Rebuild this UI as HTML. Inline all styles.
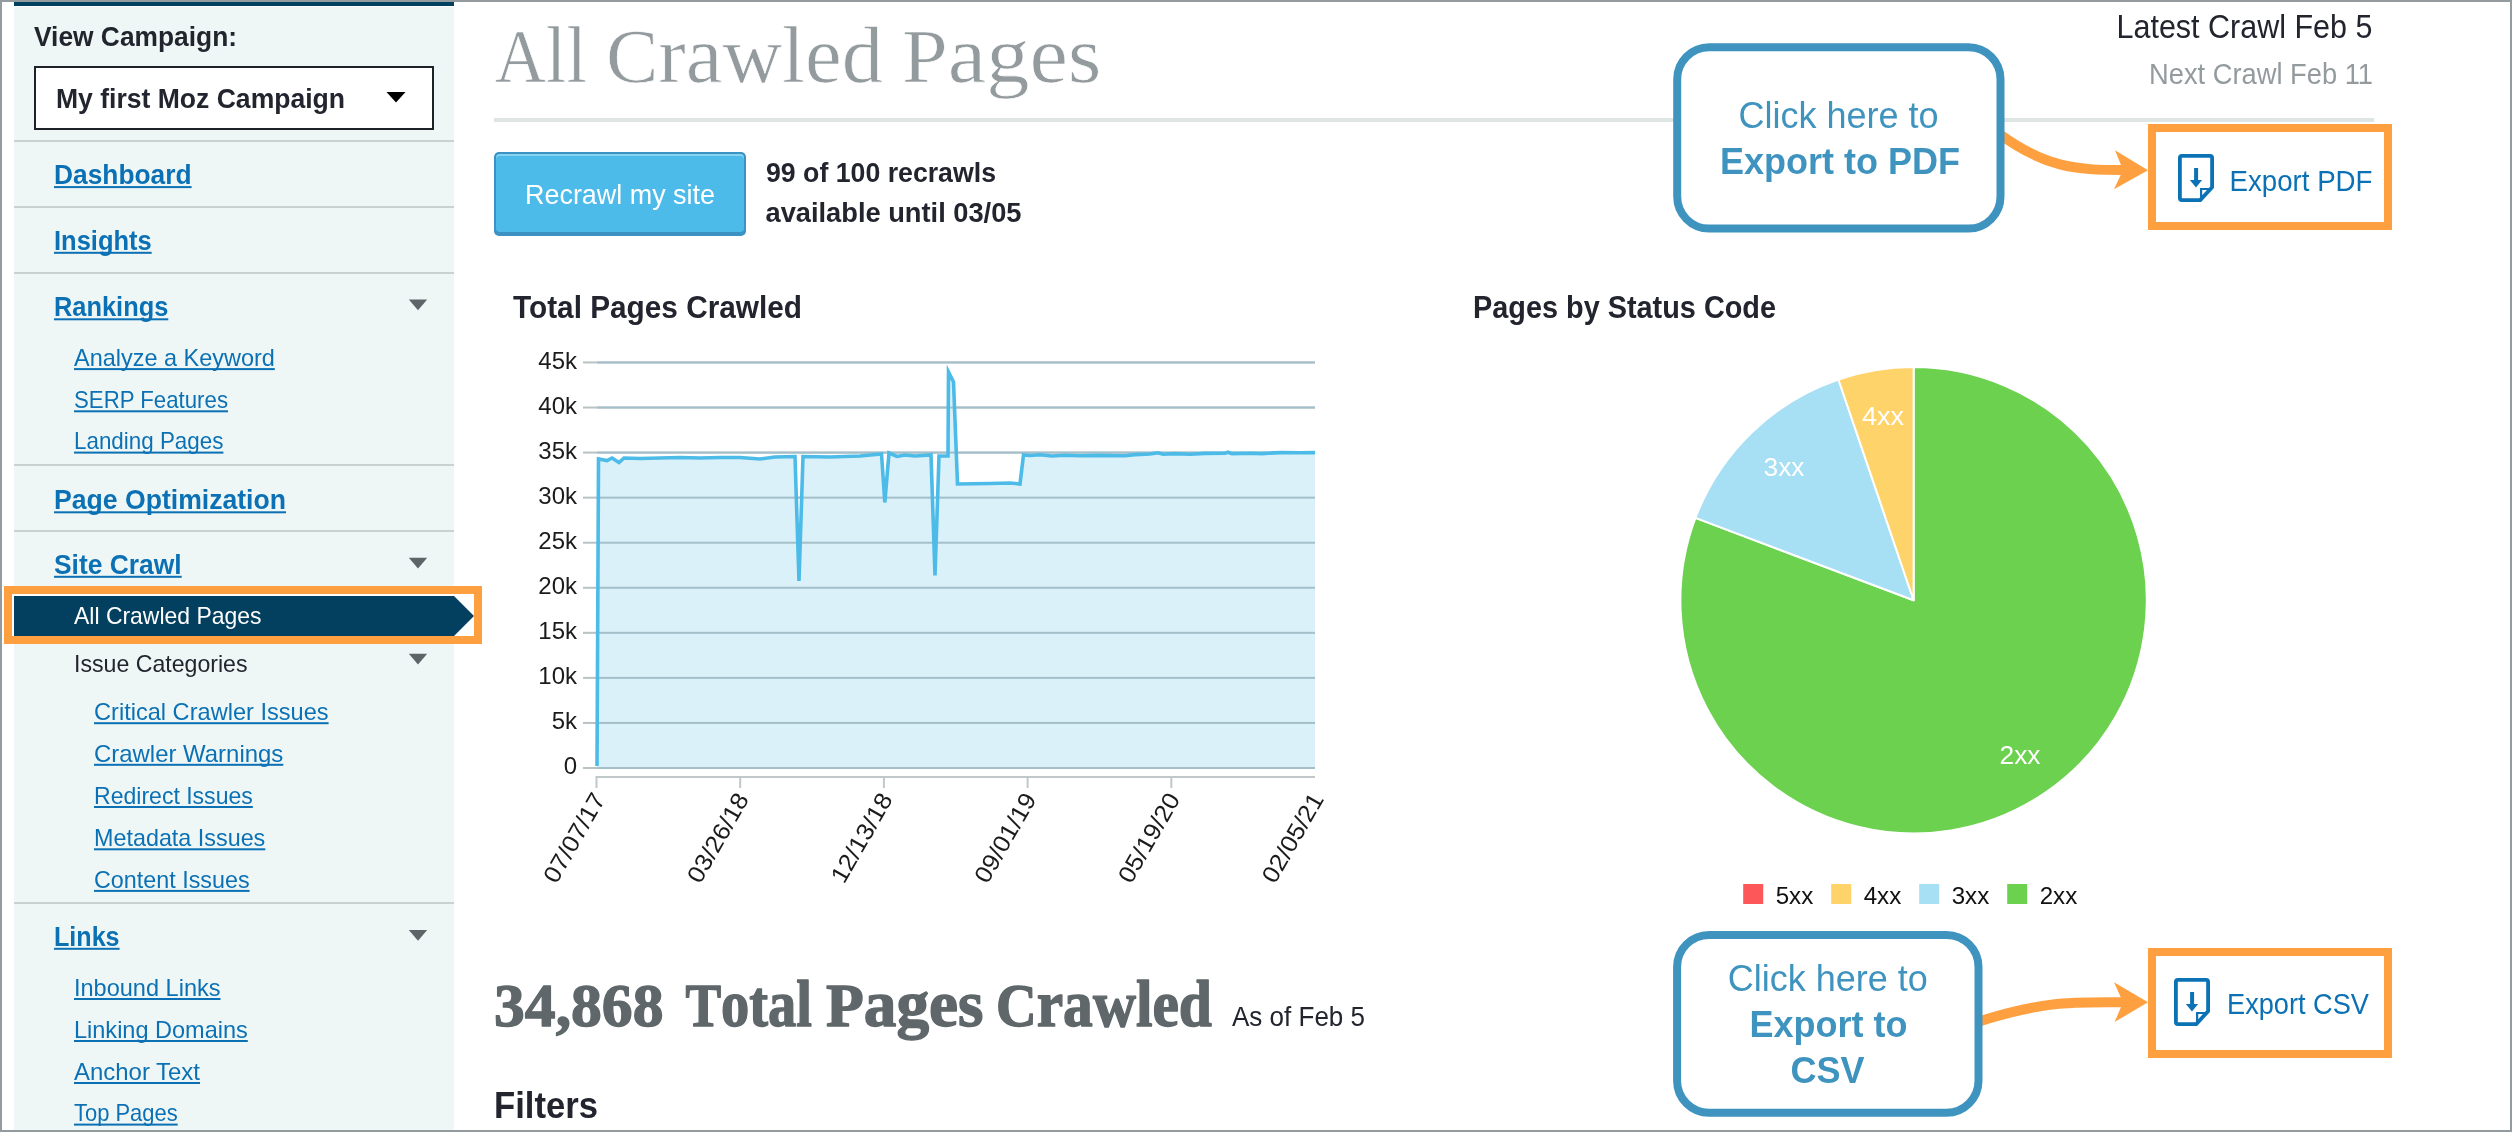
<!DOCTYPE html>
<html><head><meta charset="utf-8"><title>All Crawled Pages</title>
<style>
html,body{margin:0;padding:0;}
body{width:2512px;height:1132px;position:relative;overflow:hidden;background:#fff;font-family:"Liberation Sans", sans-serif;}
svg text{white-space:pre;}
</style></head><body>
<div style="position:absolute;left:14px;top:7px;width:440px;height:1125px;background:#eff7f6"></div><div style="position:absolute;left:14px;top:2px;width:440px;height:4px;background:#02405f"></div><div style="position:absolute;left:34px;top:66px;width:400px;height:64px;background:#fff;border:2px solid #1f2129;box-sizing:border-box"></div><div style="position:absolute;left:14px;top:140px;width:440px;height:2px;background:#cbd0d1"></div><div style="position:absolute;left:14px;top:206px;width:440px;height:2px;background:#cbd0d1"></div><div style="position:absolute;left:14px;top:272px;width:440px;height:2px;background:#cbd0d1"></div><div style="position:absolute;left:14px;top:464px;width:440px;height:2px;background:#cbd0d1"></div><div style="position:absolute;left:14px;top:530px;width:440px;height:2px;background:#cbd0d1"></div><div style="position:absolute;left:14px;top:902px;width:440px;height:2px;background:#cbd0d1"></div><div style="position:absolute;left:494px;top:118px;width:1880px;height:4px;background:#dde5e5"></div><div style="position:absolute;left:494px;top:152px;width:252px;height:84px;background:#3c93c3;border-radius:5px"></div><div style="position:absolute;left:496px;top:154px;width:248px;height:78px;background:#4dbbea;border-radius:4px;box-shadow:inset 0 2px 0 #86d3f2"></div>
<svg style="position:absolute;left:0;top:0;will-change:transform" width="2512" height="1132" viewBox="0 0 2512 1132">
<path d="M386.5 92 L405.5 92 L396 102.5 Z" fill="#000"/>
<text x="34" y="46" font-family='"Liberation Sans", sans-serif' font-size="28" font-weight="bold" fill="#22242e" text-anchor="start" textLength="203" lengthAdjust="spacingAndGlyphs" >View Campaign:</text>
<text x="56" y="107.7" font-family='"Liberation Sans", sans-serif' font-size="28" font-weight="bold" fill="#22242e" text-anchor="start" textLength="289" lengthAdjust="spacingAndGlyphs" >My first Moz Campaign</text>
<text x="54" y="183.8" font-family='"Liberation Sans", sans-serif' font-size="28" font-weight="bold" fill="#0b71b4" text-anchor="start" textLength="137.6" lengthAdjust="spacingAndGlyphs" >Dashboard</text>
<rect x="54" y="186.10000000000002" width="137.6" height="2" fill="#0b71b4" />
<text x="54" y="249.5" font-family='"Liberation Sans", sans-serif' font-size="28" font-weight="bold" fill="#0b71b4" text-anchor="start" textLength="97.7" lengthAdjust="spacingAndGlyphs" >Insights</text>
<rect x="54" y="251.8" width="97.7" height="2" fill="#0b71b4" />
<text x="54" y="316" font-family='"Liberation Sans", sans-serif' font-size="28" font-weight="bold" fill="#0b71b4" text-anchor="start" textLength="114.3" lengthAdjust="spacingAndGlyphs" >Rankings</text>
<rect x="54" y="318.3" width="114.3" height="2" fill="#0b71b4" />
<text x="74" y="365.8" font-family='"Liberation Sans", sans-serif' font-size="24" font-weight="normal" fill="#0b71b4" text-anchor="start" textLength="200.8" lengthAdjust="spacingAndGlyphs" >Analyze a Keyword</text>
<rect x="74" y="368.1" width="200.8" height="2" fill="#0b71b4" />
<text x="74" y="408" font-family='"Liberation Sans", sans-serif' font-size="24" font-weight="normal" fill="#0b71b4" text-anchor="start" textLength="154" lengthAdjust="spacingAndGlyphs" >SERP Features</text>
<rect x="74" y="410.3" width="154" height="2" fill="#0b71b4" />
<text x="74" y="449.3" font-family='"Liberation Sans", sans-serif' font-size="24" font-weight="normal" fill="#0b71b4" text-anchor="start" textLength="149.4" lengthAdjust="spacingAndGlyphs" >Landing Pages</text>
<rect x="74" y="451.6" width="149.4" height="2" fill="#0b71b4" />
<text x="54" y="509" font-family='"Liberation Sans", sans-serif' font-size="28" font-weight="bold" fill="#0b71b4" text-anchor="start" textLength="232" lengthAdjust="spacingAndGlyphs" >Page Optimization</text>
<rect x="54" y="511.3" width="232" height="2" fill="#0b71b4" />
<text x="54" y="573.5" font-family='"Liberation Sans", sans-serif' font-size="28" font-weight="bold" fill="#0b71b4" text-anchor="start" textLength="127.7" lengthAdjust="spacingAndGlyphs" >Site Crawl</text>
<rect x="54" y="575.8" width="127.7" height="2" fill="#0b71b4" />
<text x="94" y="719.9" font-family='"Liberation Sans", sans-serif' font-size="24" font-weight="normal" fill="#0b71b4" text-anchor="start" textLength="234.6" lengthAdjust="spacingAndGlyphs" >Critical Crawler Issues</text>
<rect x="94" y="722.1999999999999" width="234.6" height="2" fill="#0b71b4" />
<text x="94" y="761.5" font-family='"Liberation Sans", sans-serif' font-size="24" font-weight="normal" fill="#0b71b4" text-anchor="start" textLength="189.3" lengthAdjust="spacingAndGlyphs" >Crawler Warnings</text>
<rect x="94" y="763.8" width="189.3" height="2" fill="#0b71b4" />
<text x="94" y="803.7" font-family='"Liberation Sans", sans-serif' font-size="24" font-weight="normal" fill="#0b71b4" text-anchor="start" textLength="158.8" lengthAdjust="spacingAndGlyphs" >Redirect Issues</text>
<rect x="94" y="806.0" width="158.8" height="2" fill="#0b71b4" />
<text x="94" y="846" font-family='"Liberation Sans", sans-serif' font-size="24" font-weight="normal" fill="#0b71b4" text-anchor="start" textLength="171.3" lengthAdjust="spacingAndGlyphs" >Metadata Issues</text>
<rect x="94" y="848.3" width="171.3" height="2" fill="#0b71b4" />
<text x="94" y="887.6" font-family='"Liberation Sans", sans-serif' font-size="24" font-weight="normal" fill="#0b71b4" text-anchor="start" textLength="155.6" lengthAdjust="spacingAndGlyphs" >Content Issues</text>
<rect x="94" y="889.9" width="155.6" height="2" fill="#0b71b4" />
<text x="54" y="945.5" font-family='"Liberation Sans", sans-serif' font-size="28" font-weight="bold" fill="#0b71b4" text-anchor="start" textLength="65.6" lengthAdjust="spacingAndGlyphs" >Links</text>
<rect x="54" y="947.8" width="65.6" height="2" fill="#0b71b4" />
<text x="74" y="995.7" font-family='"Liberation Sans", sans-serif' font-size="24" font-weight="normal" fill="#0b71b4" text-anchor="start" textLength="146.5" lengthAdjust="spacingAndGlyphs" >Inbound Links</text>
<rect x="74" y="998.0" width="146.5" height="2" fill="#0b71b4" />
<text x="74" y="1037.7" font-family='"Liberation Sans", sans-serif' font-size="24" font-weight="normal" fill="#0b71b4" text-anchor="start" textLength="173.8" lengthAdjust="spacingAndGlyphs" >Linking Domains</text>
<rect x="74" y="1040.0" width="173.8" height="2" fill="#0b71b4" />
<text x="74" y="1079.7" font-family='"Liberation Sans", sans-serif' font-size="24" font-weight="normal" fill="#0b71b4" text-anchor="start" textLength="126" lengthAdjust="spacingAndGlyphs" >Anchor Text</text>
<rect x="74" y="1082.0" width="126" height="2" fill="#0b71b4" />
<text x="74" y="1121.3" font-family='"Liberation Sans", sans-serif' font-size="24" font-weight="normal" fill="#0b71b4" text-anchor="start" textLength="103.7" lengthAdjust="spacingAndGlyphs" >Top Pages</text>
<rect x="74" y="1123.6" width="103.7" height="2" fill="#0b71b4" />
<path d="M408.8 299.5 L427.2 299.5 L418 310.3 Z" fill="#5d6568"/>
<path d="M408.8 557.8 L427.2 557.8 L418 568.5999999999999 Z" fill="#5d6568"/>
<path d="M408.8 653.8 L427.2 653.8 L418 664.5999999999999 Z" fill="#5d6568"/>
<path d="M408.8 930 L427.2 930 L418 940.8 Z" fill="#5d6568"/>
<rect x="12" y="594" width="462" height="42" fill="#ffffff" />
<path d="M14 596 L454 596 L474 616 L454 636 L14 636 Z" fill="#033f5f"/>
<text x="74" y="623.8" font-family='"Liberation Sans", sans-serif' font-size="24" font-weight="normal" fill="#ffffff" text-anchor="start" textLength="187.5" lengthAdjust="spacingAndGlyphs" >All Crawled Pages</text>
<text x="74" y="671.6" font-family='"Liberation Sans", sans-serif' font-size="24" font-weight="normal" fill="#22242e" text-anchor="start" textLength="173.5" lengthAdjust="spacingAndGlyphs" >Issue Categories</text>
<rect x="8" y="590" width="470" height="50" fill="none" stroke="#ffa040" stroke-width="8"/>
<text x="495" y="82" font-family='"Liberation Serif", serif' font-size="77" fill="#939b9e" stroke="#ffffff" stroke-width="0.7" textLength="92" lengthAdjust="spacingAndGlyphs">A<tspan font-size="81">ll</tspan></text>
<text x="606" y="82" font-family='"Liberation Serif", serif' font-size="77" fill="#939b9e" stroke="#ffffff" stroke-width="0.7" textLength="277" lengthAdjust="spacingAndGlyphs">C<tspan font-size="81">rawled</tspan></text>
<text x="902" y="82" font-family='"Liberation Serif", serif' font-size="77" fill="#939b9e" stroke="#ffffff" stroke-width="0.7" textLength="199.5" lengthAdjust="spacingAndGlyphs">P<tspan font-size="81">ages</tspan></text>
<text x="2372.5" y="38" font-family='"Liberation Sans", sans-serif' font-size="33" font-weight="normal" fill="#22242e" text-anchor="end" textLength="256" lengthAdjust="spacingAndGlyphs" >Latest Crawl Feb 5</text>
<text x="2373" y="84" font-family='"Liberation Sans", sans-serif' font-size="29" font-weight="normal" fill="#939b9e" text-anchor="end" textLength="224" lengthAdjust="spacingAndGlyphs" >Next Crawl Feb 11</text>
<text x="525" y="204.1" font-family='"Liberation Sans", sans-serif' font-size="28" font-weight="normal" fill="#ffffff" text-anchor="start" textLength="190" lengthAdjust="spacingAndGlyphs" >Recrawl my site</text>
<text x="766" y="181.8" font-family='"Liberation Sans", sans-serif' font-size="28" font-weight="bold" fill="#22242e" text-anchor="start" textLength="230" lengthAdjust="spacingAndGlyphs" >99 of 100 recrawls</text>
<text x="765.5" y="221.7" font-family='"Liberation Sans", sans-serif' font-size="28" font-weight="bold" fill="#22242e" text-anchor="start" textLength="256" lengthAdjust="spacingAndGlyphs" >available until 03/05</text>
<text x="513" y="318" font-family='"Liberation Sans", sans-serif' font-size="32" font-weight="bold" fill="#22242e" text-anchor="start" textLength="289" lengthAdjust="spacingAndGlyphs" >Total Pages Crawled</text>
<rect x="583" y="767.0" width="732" height="2" fill="#b9c2c4" />
<text x="577" y="774.4" font-family='"Liberation Sans", sans-serif' font-size="24" font-weight="normal" fill="#1b1b1b" text-anchor="end" >0</text>
<rect x="583" y="721.94" width="732" height="2" fill="#b9c2c4" />
<text x="577" y="729.34" font-family='"Liberation Sans", sans-serif' font-size="24" font-weight="normal" fill="#1b1b1b" text-anchor="end" >5k</text>
<rect x="583" y="676.88" width="732" height="2" fill="#b9c2c4" />
<text x="577" y="684.28" font-family='"Liberation Sans", sans-serif' font-size="24" font-weight="normal" fill="#1b1b1b" text-anchor="end" >10k</text>
<rect x="583" y="631.8199999999999" width="732" height="2" fill="#b9c2c4" />
<text x="577" y="639.2199999999999" font-family='"Liberation Sans", sans-serif' font-size="24" font-weight="normal" fill="#1b1b1b" text-anchor="end" >15k</text>
<rect x="583" y="586.76" width="732" height="2" fill="#b9c2c4" />
<text x="577" y="594.16" font-family='"Liberation Sans", sans-serif' font-size="24" font-weight="normal" fill="#1b1b1b" text-anchor="end" >20k</text>
<rect x="583" y="541.7" width="732" height="2" fill="#b9c2c4" />
<text x="577" y="549.1" font-family='"Liberation Sans", sans-serif' font-size="24" font-weight="normal" fill="#1b1b1b" text-anchor="end" >25k</text>
<rect x="583" y="496.64" width="732" height="2" fill="#b9c2c4" />
<text x="577" y="504.03999999999996" font-family='"Liberation Sans", sans-serif' font-size="24" font-weight="normal" fill="#1b1b1b" text-anchor="end" >30k</text>
<rect x="583" y="451.58" width="732" height="2" fill="#b9c2c4" />
<text x="577" y="458.97999999999996" font-family='"Liberation Sans", sans-serif' font-size="24" font-weight="normal" fill="#1b1b1b" text-anchor="end" >35k</text>
<rect x="583" y="406.52" width="732" height="2" fill="#b9c2c4" />
<text x="577" y="413.91999999999996" font-family='"Liberation Sans", sans-serif' font-size="24" font-weight="normal" fill="#1b1b1b" text-anchor="end" >40k</text>
<rect x="583" y="361.46" width="732" height="2" fill="#b9c2c4" />
<text x="577" y="368.85999999999996" font-family='"Liberation Sans", sans-serif' font-size="24" font-weight="normal" fill="#1b1b1b" text-anchor="end" >45k</text>
<polygon points="597,766 598.5,459 607,460.5 612,458 619,462.5 624,458 640,458.5 660,458 680,457.5 700,458 720,457.5 740,457.5 760,459 775,457 795,456.5 799,581 803,456.5 830,457 860,456 881.5,454 884.8,502.5 889,453 897,456.5 905,455 915,456 931,455 935,575.5 939,456 948,456 948.5,372 953.5,382 957.5,484 990,483.5 1010,483 1020,484 1023.5,455 1030,455.5 1040,454.8 1052,456 1065,455.2 1080,455.8 1100,455.4 1125,455.8 1135,454.6 1150,454 1158,452.8 1163,454.2 1175,453.6 1190,454.2 1205,453.4 1225,453.2 1228,452.2 1232,453.6 1250,453.2 1262,453.6 1280,452.6 1300,452.8 1315,452.6 1315,768 597,768" fill="#daf1f9"/>
<rect x="597" y="767.0" width="718" height="2" fill="#a4bfca" />
<rect x="597" y="721.94" width="718" height="2" fill="#a4bfca" />
<rect x="597" y="676.88" width="718" height="2" fill="#a4bfca" />
<rect x="597" y="631.8199999999999" width="718" height="2" fill="#a4bfca" />
<rect x="597" y="586.76" width="718" height="2" fill="#a4bfca" />
<rect x="597" y="541.7" width="718" height="2" fill="#a4bfca" />
<rect x="597" y="496.64" width="718" height="2" fill="#a4bfca" />
<rect x="597" y="451.58" width="718" height="2" fill="#a4bfca" />
<rect x="597" y="406.52" width="718" height="2" fill="#a4bfca" />
<rect x="597" y="361.46" width="718" height="2" fill="#a4bfca" />
<polyline points="597,766 598.5,459 607,460.5 612,458 619,462.5 624,458 640,458.5 660,458 680,457.5 700,458 720,457.5 740,457.5 760,459 775,457 795,456.5 799,581 803,456.5 830,457 860,456 881.5,454 884.8,502.5 889,453 897,456.5 905,455 915,456 931,455 935,575.5 939,456 948,456 948.5,372 953.5,382 957.5,484 990,483.5 1010,483 1020,484 1023.5,455 1030,455.5 1040,454.8 1052,456 1065,455.2 1080,455.8 1100,455.4 1125,455.8 1135,454.6 1150,454 1158,452.8 1163,454.2 1175,453.6 1190,454.2 1205,453.4 1225,453.2 1228,452.2 1232,453.6 1250,453.2 1262,453.6 1280,452.6 1300,452.8 1315,452.6" fill="none" stroke="#4dbbe8" stroke-width="3.6" stroke-linejoin="miter" stroke-miterlimit="10"/>
<rect x="596" y="776" width="719" height="2" fill="#c0c8ca" />
<rect x="595.5" y="776" width="2" height="12" fill="#c0c8ca" />
<rect x="739.2" y="776" width="2" height="12" fill="#c0c8ca" />
<rect x="882.9" y="776" width="2" height="12" fill="#c0c8ca" />
<rect x="1026.6" y="776" width="2" height="12" fill="#c0c8ca" />
<rect x="1170.3" y="776" width="2" height="12" fill="#c0c8ca" />
<text x="606.0" y="799" font-family='"Liberation Sans", sans-serif' font-size="24" fill="#1b1b1b" text-anchor="end" textLength="99" lengthAdjust="spacingAndGlyphs" transform="rotate(-60 606.0 799)">07/07/17</text>
<text x="749.7" y="799" font-family='"Liberation Sans", sans-serif' font-size="24" fill="#1b1b1b" text-anchor="end" textLength="99" lengthAdjust="spacingAndGlyphs" transform="rotate(-60 749.7 799)">03/26/18</text>
<text x="893.4" y="799" font-family='"Liberation Sans", sans-serif' font-size="24" fill="#1b1b1b" text-anchor="end" textLength="99" lengthAdjust="spacingAndGlyphs" transform="rotate(-60 893.4 799)">12/13/18</text>
<text x="1037.1" y="799" font-family='"Liberation Sans", sans-serif' font-size="24" fill="#1b1b1b" text-anchor="end" textLength="99" lengthAdjust="spacingAndGlyphs" transform="rotate(-60 1037.1 799)">09/01/19</text>
<text x="1180.8" y="799" font-family='"Liberation Sans", sans-serif' font-size="24" fill="#1b1b1b" text-anchor="end" textLength="99" lengthAdjust="spacingAndGlyphs" transform="rotate(-60 1180.8 799)">05/19/20</text>
<text x="1324.5" y="799" font-family='"Liberation Sans", sans-serif' font-size="24" fill="#1b1b1b" text-anchor="end" textLength="99" lengthAdjust="spacingAndGlyphs" transform="rotate(-60 1324.5 799)">02/05/21</text>
<text x="1473" y="317.9" font-family='"Liberation Sans", sans-serif' font-size="32" font-weight="bold" fill="#22242e" text-anchor="start" textLength="303" lengthAdjust="spacingAndGlyphs" >Pages by Status Code</text>
<path d="M1913.6 600.3 L1913.60 367.10 A233.2 233.2 0 1 1 1695.45 517.87 Z" fill="#6cd14f" stroke="#fff" stroke-width="2" stroke-linejoin="round"/>
<path d="M1913.6 600.3 L1695.45 517.87 A233.2 233.2 0 0 1 1838.45 379.54 Z" fill="#a7dff4" stroke="#fff" stroke-width="2" stroke-linejoin="round"/>
<path d="M1913.6 600.3 L1838.45 379.54 A233.2 233.2 0 0 1 1913.60 367.10 Z" fill="#fed36a" stroke="#fff" stroke-width="2" stroke-linejoin="round"/>
<text x="1862" y="425" font-family='"Liberation Sans", sans-serif' font-size="26" font-weight="normal" fill="#ffffff" text-anchor="start" textLength="42" lengthAdjust="spacingAndGlyphs" >4xx</text>
<text x="1763.5" y="475.6" font-family='"Liberation Sans", sans-serif' font-size="26" font-weight="normal" fill="#ffffff" text-anchor="start" textLength="41" lengthAdjust="spacingAndGlyphs" >3xx</text>
<text x="1999.5" y="764" font-family='"Liberation Sans", sans-serif' font-size="26" font-weight="normal" fill="#ffffff" text-anchor="start" textLength="41" lengthAdjust="spacingAndGlyphs" >2xx</text>
<rect x="1743.2" y="884" width="20" height="20" fill="#fd5759" />
<text x="1775.7" y="904" font-family='"Liberation Sans", sans-serif' font-size="24" font-weight="normal" fill="#111111" text-anchor="start" textLength="37.5" lengthAdjust="spacingAndGlyphs" >5xx</text>
<rect x="1831.2" y="884" width="20" height="20" fill="#fed36a" />
<text x="1863.7" y="904" font-family='"Liberation Sans", sans-serif' font-size="24" font-weight="normal" fill="#111111" text-anchor="start" textLength="37.5" lengthAdjust="spacingAndGlyphs" >4xx</text>
<rect x="1919.2" y="884" width="20" height="20" fill="#a7dff4" />
<text x="1951.7" y="904" font-family='"Liberation Sans", sans-serif' font-size="24" font-weight="normal" fill="#111111" text-anchor="start" textLength="37.5" lengthAdjust="spacingAndGlyphs" >3xx</text>
<rect x="2007.2" y="884" width="20" height="20" fill="#6cd14f" />
<text x="2039.7" y="904" font-family='"Liberation Sans", sans-serif' font-size="24" font-weight="normal" fill="#111111" text-anchor="start" textLength="37.5" lengthAdjust="spacingAndGlyphs" >2xx</text>
<text x="494" y="1026.4" font-family='"Liberation Serif", serif' font-size="61.5" font-weight="bold" fill="#5f676a" stroke="#5f676a" stroke-width="1.4" stroke-linejoin="round" textLength="169.5" lengthAdjust="spacingAndGlyphs">34,868</text>
<text x="685.5" y="1026.4" font-family='"Liberation Serif", serif' font-size="61.5" font-weight="bold" fill="#5f676a" stroke="#5f676a" stroke-width="1.4" stroke-linejoin="round" textLength="126.5" lengthAdjust="spacingAndGlyphs">T<tspan font-size="65">otal</tspan></text>
<text x="826" y="1026.4" font-family='"Liberation Serif", serif' font-size="61.5" font-weight="bold" fill="#5f676a" stroke="#5f676a" stroke-width="1.4" stroke-linejoin="round" textLength="157.5" lengthAdjust="spacingAndGlyphs">P<tspan font-size="65">ages</tspan></text>
<text x="996" y="1026.4" font-family='"Liberation Serif", serif' font-size="61.5" font-weight="bold" fill="#5f676a" stroke="#5f676a" stroke-width="1.4" stroke-linejoin="round" textLength="216" lengthAdjust="spacingAndGlyphs">C<tspan font-size="65">rawled</tspan></text>
<text x="1232" y="1025.6" font-family='"Liberation Sans", sans-serif' font-size="28" font-weight="normal" fill="#22242e" text-anchor="start" textLength="133" lengthAdjust="spacingAndGlyphs" >As of Feb 5</text>
<text x="494" y="1118" font-family='"Liberation Sans", sans-serif' font-size="36" font-weight="bold" fill="#22242e" text-anchor="start" textLength="104" lengthAdjust="spacingAndGlyphs" >Filters</text>
<path d="M1996 131.5 C2045 168 2075 170 2124 170" fill="none" stroke="#ffa040" stroke-width="10"/>
<path d="M2148 170.3 L2115 150.2 L2123 170 L2114 189.2 Z" fill="#ffa040"/>
<path d="M1975 1022.8 C2045 1000 2075 1002.3 2124 1002.3" fill="none" stroke="#ffa040" stroke-width="10"/>
<path d="M2148 1002.3 L2114 982.2 L2123 1002.3 L2114.6 1022.1 Z" fill="#ffa040"/>
<rect x="1677.2" y="47.2" width="323.3" height="181.4" rx="32" ry="32" fill="#fff" stroke="#3f93bf" stroke-width="8"/>
<text x="1838.5" y="128.2" font-family='"Liberation Sans", sans-serif' font-size="36" font-weight="normal" fill="#3f93bf" text-anchor="middle" >Click here to</text>
<text x="1840" y="173.9" font-family='"Liberation Sans", sans-serif' font-size="36" font-weight="bold" fill="#3f93bf" text-anchor="middle" >Export to PDF</text>
<rect x="1677.1" y="934.9" width="301.4" height="177.8" rx="32" ry="32" fill="#fff" stroke="#3f93bf" stroke-width="8"/>
<text x="1827.7" y="991.2" font-family='"Liberation Sans", sans-serif' font-size="36" font-weight="normal" fill="#3f93bf" text-anchor="middle" >Click here to</text>
<text x="1828.5" y="1037" font-family='"Liberation Sans", sans-serif' font-size="36" font-weight="bold" fill="#3f93bf" text-anchor="middle" >Export to</text>
<text x="1827.6" y="1082.6" font-family='"Liberation Sans", sans-serif' font-size="36" font-weight="bold" fill="#3f93bf" text-anchor="middle" >CSV</text>
<rect x="2152" y="128" width="236" height="98" fill="#fff" stroke="#ffa040" stroke-width="8"/>
<rect x="2152" y="952" width="236" height="102" fill="#fff" stroke="#ffa040" stroke-width="8"/>
<path d="M2181.9 155.9 L2210.1 155.9 Q2212.1 155.9 2212.1 157.9 L2212.1 187.2 L2200.2 200.1 L2181.9 200.1 Q2179.9 200.1 2179.9 198.1 L2179.9 157.9 Q2179.9 155.9 2181.9 155.9 Z" fill="none" stroke="#0b72b5" stroke-width="3.8" stroke-linejoin="round"/>
<path d="M2201.1 199.0 L2201.1 189.0 L2211.0 189.0" fill="none" stroke="#0b72b5" stroke-width="2.2"/>
<rect x="2194.1" y="168" width="4" height="13" fill="#0b72b5"/>
<path d="M2189.9 180.0 L2202.1 180.0 L2196.0 187.5 Z" fill="#0b72b5"/>
<path d="M2177.9 979.9 L2206.1 979.9 Q2208.1 979.9 2208.1 981.9 L2208.1 1011.2 L2196.2 1024.1 L2177.9 1024.1 Q2175.9 1024.1 2175.9 1022.1 L2175.9 981.9 Q2175.9 979.9 2177.9 979.9 Z" fill="none" stroke="#0b72b5" stroke-width="3.8" stroke-linejoin="round"/>
<path d="M2197.1 1023.0 L2197.1 1013.0 L2207.0 1013.0" fill="none" stroke="#0b72b5" stroke-width="2.2"/>
<rect x="2190.1" y="992" width="4" height="13" fill="#0b72b5"/>
<path d="M2185.9 1004.0 L2198.1 1004.0 L2192.0 1011.5 Z" fill="#0b72b5"/>
<text x="2229.5" y="190.5" font-family='"Liberation Sans", sans-serif' font-size="29" font-weight="normal" fill="#0b71b4" text-anchor="start" textLength="143" lengthAdjust="spacingAndGlyphs" >Export PDF</text>
<text x="2227" y="1013.9" font-family='"Liberation Sans", sans-serif' font-size="29" font-weight="normal" fill="#0b71b4" text-anchor="start" textLength="142" lengthAdjust="spacingAndGlyphs" >Export CSV</text>
</svg>
<div style="position:absolute;left:0;top:0;width:2512px;height:1132px;box-sizing:border-box;border:2px solid #949b9e;pointer-events:none"></div>
</body></html>
